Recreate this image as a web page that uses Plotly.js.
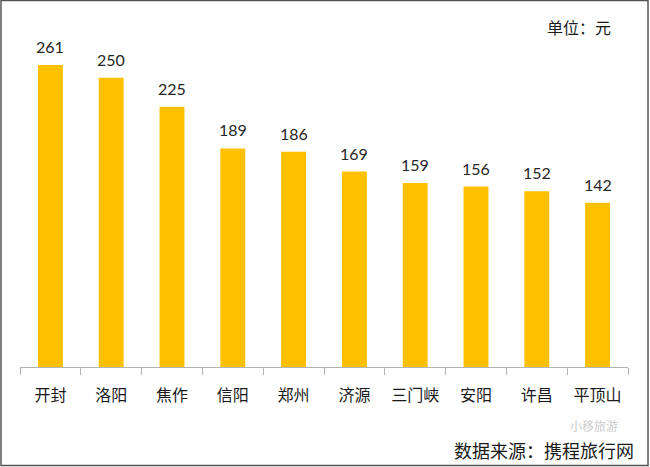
<!DOCTYPE html>
<html><head><meta charset="utf-8">
<script src="https://cdn.plot.ly/plotly-3.0.1.min.js"></script>
<style>html,body{margin:0;padding:0;background:#fff;}#c{width:650px;height:467px;}</style>
</head><body><div id="c"></div>
<script>
const cities = ["开封","洛阳","焦作","信阳","郑州","济源","三门峡","安阳","许昌","平顶山"];
const prices = [261,250,225,189,186,169,159,156,152,142];
const unitLabel = "单位：元";
const sourceLabel = "数据来源：携程旅行网";
const watermark = "小移旅游";

const trace = {
  type: "bar", x: cities, y: prices,
  marker: {color: "#FFC000"},
  hoverinfo: "none"
};
const valueLabels = cities.map((c, i) => ({
  x: c, y: prices[i], xref: "x", yref: "y", text: String(prices[i]),
  showarrow: false, yanchor: "bottom", yshift: 7,
  font: {family: "Lato, 'Liberation Sans', sans-serif", size: 16, color: "#262626"}
}));
const layout = {
  width: 650, height: 467,
  margin: {l: 20, r: 22, t: 20, b: 100},
  paper_bgcolor: "#fff", plot_bgcolor: "#fff",
  showlegend: false, bargap: 0.59,
  xaxis: {
    type: "category", showline: true, linecolor: "#b3b3b3", linewidth: 1,
    ticks: "outside", tickson: "boundaries", ticklen: 7, tickcolor: "#b3b3b3",
    ticklabelstandoff: 14,
    tickfont: {family: "'Noto Sans CJK SC', sans-serif", size: 16, color: "#1a1a1a"},
    showgrid: false, zeroline: false, fixedrange: true
  },
  yaxis: {range: [0, 300], visible: false, showgrid: false, zeroline: false, fixedrange: true},
  annotations: valueLabels.concat([
    {xref: "paper", yref: "paper", x: (613-20)/608, y: (367-27)/347, text: unitLabel,
     showarrow: false, xanchor: "right", yanchor: "middle",
     font: {family: "'Noto Sans CJK SC', sans-serif", size: 16, color: "#1a1a1a"}},
    {xref: "paper", yref: "paper", x: (568-20)/608, y: (367-425)/347, text: watermark,
     showarrow: false, xanchor: "left", yanchor: "middle",
     font: {family: "'Noto Sans CJK SC', sans-serif", size: 12, color: "#cccccc"}},
    {xref: "paper", yref: "paper", x: (636-20)/608, y: (367-450)/347, text: sourceLabel,
     showarrow: false, xanchor: "right", yanchor: "middle",
     font: {family: "'Noto Sans CJK SC', sans-serif", size: 18, color: "#1a1a1a"}}
  ]),
  shapes: [{type: "rect", xref: "paper", yref: "paper",
    x0: (1-20)/608, x1: (648-20)/608, y0: (367-465.5)/347, y1: (367-0.5)/347,
    line: {color: "#555", width: 1.5}}]
};
Plotly.newPlot("c", [trace], layout, {displayModeBar: false, staticPlot: true});
</script></body></html>
